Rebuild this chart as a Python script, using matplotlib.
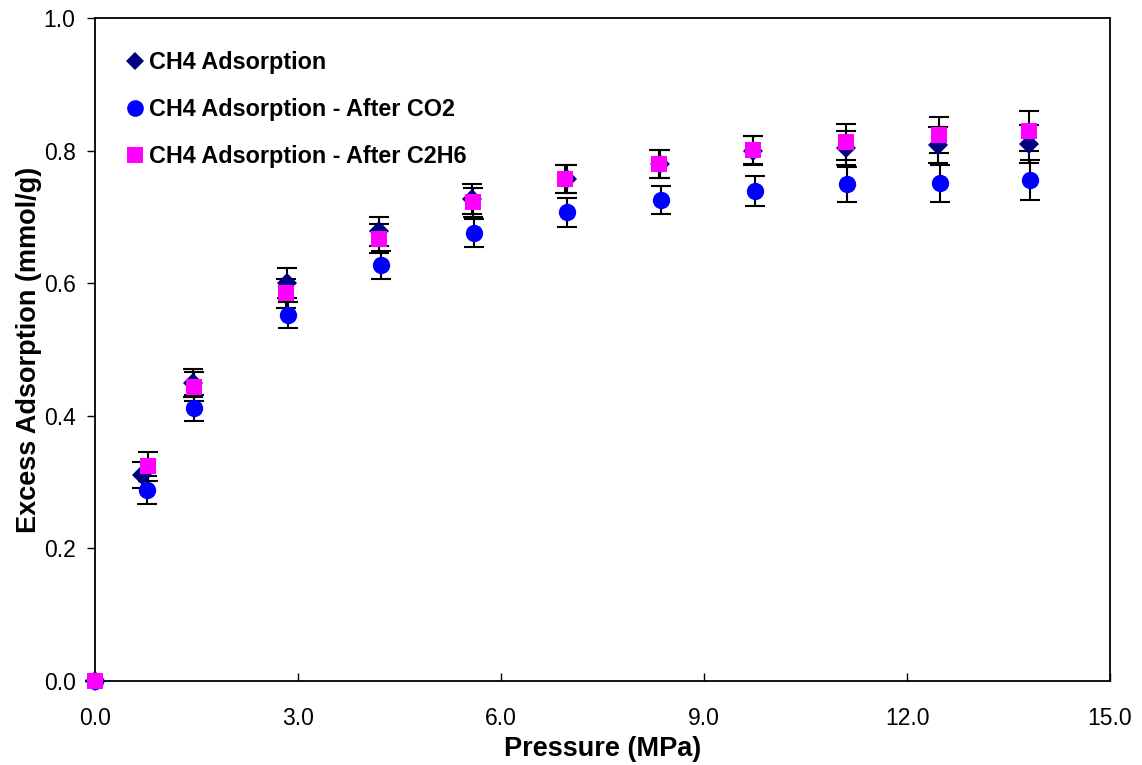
import matplotlib
matplotlib.use("Agg")
import matplotlib.pyplot as plt
import numpy as np

plt.rcParams['font.family'] = ['Liberation Sans', 'DejaVu Sans']

# Data
p_ch4 = [0.0, 0.70, 1.45, 2.84, 4.20, 5.57, 6.97, 8.35, 9.72, 11.10, 12.46, 13.80]
q_ch4 = [0.0, 0.311, 0.450, 0.600, 0.678, 0.727, 0.757, 0.780, 0.800, 0.804, 0.808, 0.810]
e_ch4 = [0.0, 0.020, 0.021, 0.023, 0.022, 0.022, 0.021, 0.021, 0.022, 0.025, 0.027, 0.028]

p_co2 = [0.0, 0.77, 1.47, 2.85, 4.22, 5.60, 6.98, 8.37, 9.75, 11.12, 12.48, 13.82]
q_co2 = [0.0, 0.288, 0.412, 0.552, 0.628, 0.676, 0.707, 0.725, 0.739, 0.749, 0.751, 0.756]
e_co2 = [0.0, 0.021, 0.020, 0.020, 0.021, 0.021, 0.022, 0.021, 0.023, 0.026, 0.028, 0.030]

p_c2h6 = [0.0, 0.79, 1.46, 2.82, 4.19, 5.58, 6.95, 8.34, 9.73, 11.10, 12.47, 13.81]
q_c2h6 = [0.0, 0.324, 0.444, 0.585, 0.667, 0.722, 0.757, 0.780, 0.801, 0.813, 0.824, 0.830]
e_c2h6 = [0.0, 0.022, 0.022, 0.022, 0.022, 0.022, 0.021, 0.021, 0.021, 0.027, 0.027, 0.030]

labels = ["CH4 Adsorption", "CH4 Adsorption - After CO2", "CH4 Adsorption - After C2H6"]
xticks = [0.0, 3.0, 6.0, 9.0, 12.0, 15.0]
yticks = [0.0, 0.2, 0.4, 0.6, 0.8, 1.0]

fig = plt.figure(figsize=(11.42, 7.65), dpi=100)
ax = fig.add_axes([0.0832, 0.1098, 0.8888, 0.8667])

series = [
    (p_ch4, q_ch4, e_ch4, 'D', '#000080', 10),
    (p_co2, q_co2, e_co2, 'o', '#0000FF', 12.5),
    (p_c2h6, q_c2h6, e_c2h6, 's', '#FF00FF', 12),
]
for (x, y, e, m, c, ms), lab in zip(series, labels):
    ax.errorbar(x, y, yerr=e, fmt='none', ecolor='black', elinewidth=1.5,
                capsize=7, capthick=1.5, zorder=2, clip_on=False)
    ax.plot(x, y, linestyle='none', marker=m, color=c, markersize=ms,
            markeredgewidth=0, zorder=3, clip_on=False, label=lab)

ax.set_xlim(0, 15)
ax.set_ylim(0, 1.0)
ax.set_xticks(xticks)
ax.set_yticks(yticks)
ax.set_xticklabels([f"{v:.1f}" for v in xticks], fontsize=16.5)
ax.set_yticklabels([f"{v:.1f}" for v in yticks], fontsize=16.5)
ax.tick_params(axis='x', direction='in', length=6, width=1, pad=19)
ax.tick_params(axis='y', direction='out', length=6, width=1, pad=8)
for s in ax.spines.values():
    s.set_linewidth(1.3)
    s.set_color('black')

ax.set_xlabel("Pressure (MPa)", fontsize=19.5, fontweight='bold', labelpad=4)
ax.set_ylabel("Excess Adsorption (mmol/g)", fontsize=19.5, fontweight='bold', labelpad=1)

leg_handles = [
    plt.Line2D([], [], linestyle='none', marker='D', color='#000080', markersize=9, markeredgewidth=0),
    plt.Line2D([], [], linestyle='none', marker='o', color='#0000FF', markersize=12, markeredgewidth=0),
    plt.Line2D([], [], linestyle='none', marker='s', color='#FF00FF', markersize=11, markeredgewidth=0),
]
ax.legend(leg_handles, labels, loc='upper left', bbox_to_anchor=(0.005, 0.982),
          frameon=False, prop={'weight': 'bold', 'size': 16.8},
          handletextpad=0.0, handlelength=1.2, labelspacing=1.04)

fig.savefig("out.png", dpi=100)
